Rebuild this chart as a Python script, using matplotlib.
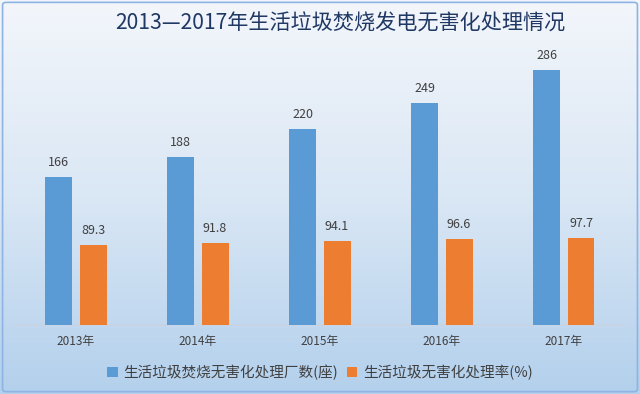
import numpy as np
import matplotlib
matplotlib.use('Agg')
import matplotlib.pyplot as plt
from matplotlib.colors import LinearSegmentedColormap
from matplotlib.patches import FancyBboxPatch

plt.rcParams['font.family'] = ['Noto Sans CJK SC', 'DejaVu Sans']

years = ['2013年', '2014年', '2015年', '2016年', '2017年']
plants = [166, 188, 220, 249, 286]
rate = [89.3, 91.8, 94.1, 96.6, 97.7]
labels = ['生活垃圾焚烧无害化处理厂数(座)', '生活垃圾无害化处理率(%)']
title = '2013—2017年生活垃圾焚烧发电无害化处理情况'

blue = '#5B9BD5'
orange = '#ED7D31'
txt = '#404040'

fig = plt.figure(figsize=(6.4, 3.94), dpi=100)

# background gradient
bg = fig.add_axes([0, 0, 1, 1], zorder=-10)
cmap = LinearSegmentedColormap.from_list('bg', ['#F3F6FB', '#DAE7F5', '#B3D0EC'])
grad = np.linspace(0, 1, 256).reshape(-1, 1)
bg.imshow(grad, aspect='auto', cmap=cmap, extent=[0, 1, 0, 1], origin='upper')
bg.add_patch(FancyBboxPatch((0.004, 0.006), 0.992, 0.988, boxstyle='round,pad=0,rounding_size=0.006',
                            fill=False, ec='#8EB4E3', lw=1.2, transform=bg.transAxes))
bg.set_xlim(0, 1)
bg.set_ylim(0, 1)
bg.axis('off')

ax = fig.add_axes([15/640, 69/394, 610/640, 305/394])
ax.patch.set_alpha(0)
x = np.arange(len(years))
w = 0.22
b1 = ax.bar(x - 0.142, plants, w, color=blue, label=labels[0], zorder=3)
b2 = ax.bar(x + 0.14, rate, w, color=orange, label=labels[1], zorder=3)
for xi, v in zip(x, plants):
    ax.text(xi - 0.142, v + 9, str(v), ha='center', va='bottom', fontsize=9, color=txt)
for xi, v in zip(x, rate):
    ax.text(xi + 0.14, v + 9, '%.1f' % v, ha='center', va='bottom', fontsize=9, color=txt)

ax.set_xlim(-0.5, 4.5)
ax.set_ylim(0, 342)
ax.set_xticks(x)
ax.set_xticklabels(years, fontsize=8.5, color=txt)
ax.tick_params(axis='x', length=0, pad=7)
ax.set_yticks([])
for s in ['top', 'right', 'left']:
    ax.spines[s].set_visible(False)
ax.spines['bottom'].set_color('#C8D4E2')
ax.spines['bottom'].set_linewidth(1.2)

fig.text(340/640, 1 - 24/394, title, ha='center', va='center', fontsize=15.2,
         color='#1F3864', fontweight='medium')

fig.legend(handles=[b1, b2], labels=labels, loc='center', bbox_to_anchor=(0.5, 1 - 372/394),
           ncol=2, frameon=False, fontsize=10.5, handlelength=0.7, handleheight=0.7,
           handletextpad=0.4, columnspacing=0.6, labelcolor=txt)

fig.savefig('out.png', dpi=100)
